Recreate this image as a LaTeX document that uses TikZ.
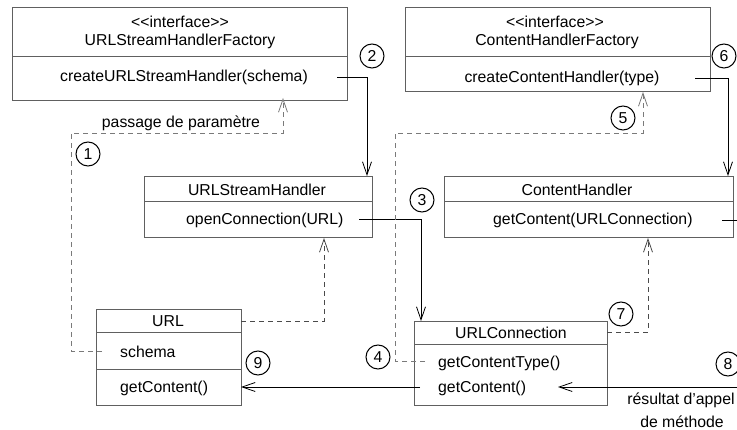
\documentclass[tikz,border=0pt]{standalone}
\usepackage{fontspec}
\setmainfont{Liberation Sans}
\usetikzlibrary{arrows.meta}
\definecolor{boxgray}{HTML}{606060}
\definecolor{dlight}{HTML}{7A7A7A}
\definecolor{ddark}{HTML}{4A4A4A}
\newcommand{\fsz}{\fontsize{15.8}{18}\selectfont}
\newcommand{\guil}{<\kern0pt<interface>\kern0pt>}
\tikzset{
  cls/.style={draw=boxgray, line width=0.9pt, anchor=north west, inner sep=0pt, outer sep=0pt},
  sepline/.style={draw=boxgray, line width=0.9pt},
  txt/.style={inner sep=0pt, font=\fsz},
  conn/.style={draw=black, line width=0.8pt},
  dshl/.style={draw=dlight, line width=0.9pt, dash pattern=on 5pt off 4pt},
  dshd/.style={draw=ddark, line width=0.8pt, dash pattern=on 5pt off 4pt},
  arr/.style={-{Straight Barb[length=13pt,width=9pt,line width=0.8pt]}},
  num/.style={circle, draw=black, line width=1pt, minimum size=24pt, inner sep=0pt, font=\fsz},
}
\begin{document}
\begin{tikzpicture}[x=1pt,y=-1pt]
\useasboundingbox (0,0) rectangle (737,430);
% class boxes
\node[cls, minimum width=335pt, minimum height=93pt] (fA) at (12,7) {};
\draw[sepline] (12,56) -- (347,56);
\node[cls, minimum width=305pt, minimum height=84pt] (fB) at (405,7) {};
\draw[sepline] (405,56) -- (710,56);
\node[cls, minimum width=228pt, minimum height=61pt] (ush) at (144,176) {};
\draw[sepline] (144,201) -- (372,201);
\node[cls, minimum width=289pt, minimum height=61pt] (ch) at (444,176) {};
\draw[sepline] (444,201) -- (733,201);
\node[cls, minimum width=145pt, minimum height=96pt] (url) at (96,309) {};
\draw[sepline] (96,332) -- (241,332);
\draw[sepline] (96,369) -- (241,369);
\node[cls, minimum width=193pt, minimum height=84pt] (uc) at (414,321) {};
\draw[sepline] (414,344) -- (607,344);
% texts
\node[txt] (tA1) at (180,22) {\guil};
\node[txt] (tA2) at (180,41) {URLStreamHandlerFactory};
\node[txt] (mA) at (184,77) {createURLStreamHandler(schema)};
\node[txt] (tB1) at (555,22) {\guil};
\node[txt] (tB2) at (557,41) {ContentHandlerFactory};
\node[txt] (mB) at (562,78) {createContentHandler(type)};
\node[txt] (tC) at (257,190) {URLStreamHandler};
\node[txt, anchor=west] (mC) at (186,220) {openConnection(URL)};
\node[txt] (tD) at (577,190) {ContentHandler};
\node[txt, anchor=west] (mD) at (493,220) {getContent(URLConnection)};
\node[txt] (tE) at (168,321) {URL};
\node[txt, anchor=west] (aE) at (120,352) {schema};
\node[txt, anchor=west] (mE) at (120,388) {getContent()};
\node[txt] (tF) at (511,333) {URLConnection};
\node[txt, anchor=west] (mF1) at (438,363) {getContentType()};
\node[txt, anchor=west] (mF2) at (438,388) {getContent()};
\node[txt] (lbl1) at (181,123) {passage de paramètre};
\node[txt] (lbl8a) at (681,400) {résultat d'appel};
\node[txt] (lbl8b) at (682,422) {de méthode};
% numbers
\node[num] (n1) at (88,154) {1};
\node[num] (n2) at (372,56) {2};
\node[num] (n3) at (422,200) {3};
\node[num] (n4) at (378,357) {4};
\node[num] (n5) at (623,118) {5};
\node[num] (n6) at (724,56) {6};
\node[num] (n7) at (621,314) {7};
\node[num] (n8) at (728,364) {8};
\node[num] (n9) at (258,363) {9};
% connector end points
\coordinate (c1s) at (102,351);
\coordinate (c1e) at (283,98);
\coordinate (c2s) at (337,77);
\coordinate (c2e) at (367,176);
\coordinate (c3s) at (359,219);
\coordinate (c3e) at (421,321);
\coordinate (c5s) at (425,361);
\coordinate (c5e) at (643,92);
\coordinate (c6s) at (695,78);
\coordinate (c6e) at (728,176);
\coordinate (cUs) at (241,321);
\coordinate (cUe) at (324,238);
\coordinate (c7s) at (607,332);
\coordinate (c7e) at (648,238);
\coordinate (cDs) at (722,220);
\coordinate (cDe) at (737,220);
\coordinate (c9s) at (420,387);
\coordinate (c9e) at (241,387);
\coordinate (c8s) at (737,387);
\coordinate (c8e) at (558,387);
% connectors
\draw[dshl,arr] (c1s) -- (71,351) -- (71,133) -- (283,133) -- (c1e);
\draw[conn,arr] (c2s) -- (367,77) -- (c2e);
\draw[conn,arr] (c3s) -- (421,219) -- (c3e);
\draw[dshl,arr] (c5s) -- (395,361) -- (395,133) -- (643,133) -- (c5e);
\draw[conn,arr] (c6s) -- (728,78) -- (c6e);
\draw[dshd,arr] (cUs) -- (324,321) -- (cUe);
\draw[dshd,arr] (c7s) -- (648,332) -- (c7e);
\draw[conn] (cDs) -- (cDe);
\draw[conn,arr] (c9s) -- (c9e);
\draw[conn,arr] (c8s) -- (c8e);
\end{tikzpicture}
\end{document}
